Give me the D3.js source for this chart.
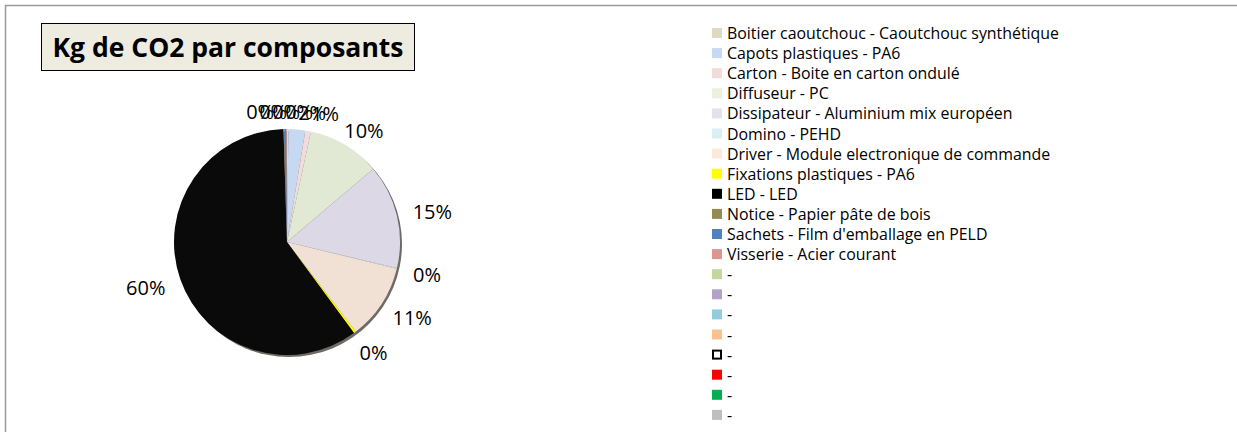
<!DOCTYPE html>
<html lang="fr">
  <head>
    <meta charset="UTF-8" />
    <title>Kg de CO2 par composants</title>
    <style>
      body { margin: 0; background: #fff; }
      text { font-family: "Open Sans", "Lato", sans-serif; }
    </style>
  </head>
  <body>
    <svg width="1237" height="432" xmlns="http://www.w3.org/2000/svg"></svg>
    <script src="https://cdn.jsdelivr.net/npm/d3@7"></script>
    <script>
      // composants (ordre de la légende / des secteurs)
      const components = [
        "Boitier caoutchouc - Caoutchouc synthétique",
        "Capots plastiques - PA6",
        "Carton - Boite en carton ondulé",
        "Diffuseur - PC",
        "Dissipateur  - Aluminium mix européen",
        "Domino - PEHD",
        "Driver - Module electronique de commande",
        "Fixations plastiques - PA6",
        "LED - LED",
        "Notice - Papier pâte de bois",
        "Sachets - Film d'emballage en PELD",
        "Visserie - Acier courant"
      ];
      // part estimée (%) lue sur le camembert
      const shares = [0.2, 2.4, 0.8, 10.4, 14.9, 0.1, 10.8, 0.3, 59.6, 0.1, 0.3, 0.1];
      const sliceColors = [
        "#ddd9c3", "#c6d9f1", "#f2dcdb", "#e1e8d4", "#ddd8e6", "#dbeef4",
        "#f0e1d4", "#ffff00", "#0a0a0a", "#948a54", "#4f81bd", "#d99694"
      ];
      const legendColors = [
        "#ddd9c3", "#c6d9f1", "#f2dcdb", "#ebf1de", "#e5e0ec", "#dbeef4",
        "#fde9d9", "#ffff00", "#000000", "#948a54", "#4f81bd", "#d99694",
        "#c3d69b", "#b3a2c7", "#93cddd", "#fac090", "#ffffff", "#ff0000",
        "#00b050", "#bfbfbf"
      ];
      const legendLabels = components.concat(d3.range(8).map(() => "-"));

      const svg = d3.select("svg");

      // cadre du graphique
      svg.append("rect")
        .attr("x", 5.5).attr("y", 5.5)
        .attr("width", 1300).attr("height", 500)
        .attr("fill", "none").attr("stroke", "#9a9a9a").attr("stroke-width", 1.5);

      // titre
      svg.append("rect")
        .attr("x", 41.5).attr("y", 23.5).attr("width", 373).attr("height", 47)
        .attr("fill", "#eeece1").attr("stroke", "#000").attr("stroke-width", 1);
      svg.append("text")
        .attr("x", 228).attr("y", 57)
        .attr("text-anchor", "middle")
        .style("font-size", "26.5px").style("font-weight", "bold")
        .text("Kg de CO2 par composants");

      // camembert
      const cx = 287, cy = 242, r = 113;
      const pie = d3.pie().sort(null).value(d => d);
      const arcs = pie(shares);
      const arc = d3.arc().innerRadius(0).outerRadius(r);

      const g = svg.append("g").attr("transform", `translate(${cx},${cy})`);
      g.append("circle")
        .attr("cx", 2).attr("cy", 2).attr("r", r)
        .attr("fill", "#6e6a66");
      g.selectAll("path.slice")
        .data(arcs)
        .enter()
        .append("path")
        .attr("class", "slice")
        .attr("d", arc)
        .attr("fill", (d, i) => sliceColors[i]);

      // étiquettes de pourcentage (à l'extérieur, façon Excel)
      const total = d3.sum(shares);
      const labels = arcs.map(d => {
        const a = (d.startAngle + d.endAngle) / 2;
        const s = Math.sin(a), c = -Math.cos(a);
        const txt = Math.round((d.value / total) * 100) + "%";
        const w = txt.length * 11;
        return {
          txt,
          a: a > Math.PI ? a - 2 * Math.PI : a,
          x: (r + 20) * s + (w / 2) * s,
          y: (r + 8) * c + 10 * c + 8 + (c > 0 ? 6 * c : 0)
        };
      });
      // les petits secteurs du haut se chevauchent : on les étale un peu
      const topLabels = labels.filter(l => Math.abs(l.a) < 0.25).sort((p, q) => p.a - q.a);
      const gap = 13;
      const meanX = d3.mean(topLabels, l => l.x);
      topLabels.forEach((l, k) => {
        l.x = meanX + (k - (topLabels.length - 1) / 2) * gap;
      });

      g.selectAll("text.lbl")
        .data(labels)
        .enter()
        .append("text")
        .attr("class", "lbl")
        .style("font-size", "20px")
        .attr("fill", "#000")
        .attr("text-anchor", "middle")
        .attr("x", d => d.x)
        .attr("y", d => d.y)
        .text(d => d.txt);

      // légende
      const legend = svg.append("g").attr("transform", "translate(712,28)");
      const rows = legend.selectAll("g")
        .data(legendLabels)
        .enter()
        .append("g")
        .attr("transform", (d, i) => `translate(0,${i * 20.1})`);
      rows.append("rect")
        .attr("x", (d, i) => (i === 16 ? 1 : 0))
        .attr("y", (d, i) => (i === 16 ? 1 : 0))
        .attr("width", (d, i) => (i === 16 ? 8 : 10))
        .attr("height", (d, i) => (i === 16 ? 8 : 10))
        .attr("fill", (d, i) => legendColors[i])
        .attr("stroke", (d, i) => (i === 16 ? "#000" : "none"))
        .attr("stroke-width", 2);
      rows.append("text")
        .attr("x", 15).attr("y", 11)
        .style("font-size", "15.9px")
        .text(d => d);
    </script>
  </body>
</html>
